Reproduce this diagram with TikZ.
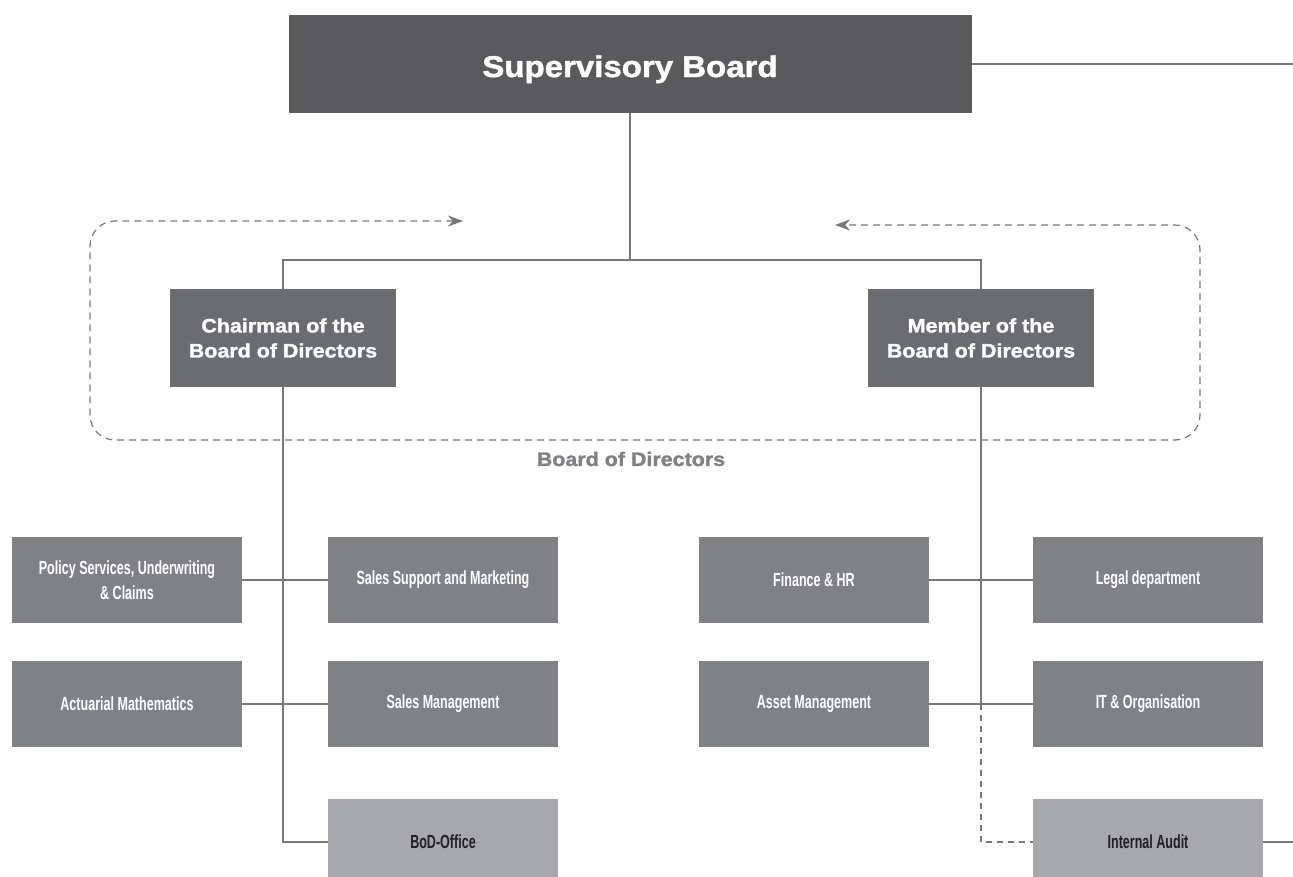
\documentclass[tikz,border=0pt]{standalone}
\usepackage{fontspec}
\setmainfont{Liberation Sans}
\newfontfamily\condfont[FakeStretch=0.66]{Liberation Sans}
\newfontfamily\heavyfont[FakeStretch=1.1, FakeBold=1.5]{Liberation Sans}
\usetikzlibrary{arrows.meta}

\definecolor{boardgray}{HTML}{5A5A5D}
\definecolor{dirgray}{HTML}{6B6C6F}
\definecolor{deptgray}{HTML}{808184}
\definecolor{officegray}{HTML}{A7A8AB}
\definecolor{linegray}{HTML}{76777A}
\definecolor{textdark}{HTML}{231F20}

\tikzset{
  board/.style={fill=boardgray, text=white, inner sep=0pt,
    minimum width=683pt, minimum height=98pt,
    text height=26pt, text depth=0pt,
    font=\heavyfont\bfseries\fontsize{30}{32}\selectfont},
  director/.style={fill=dirgray, text=white, inner sep=0pt, align=center,
    minimum width=226pt, minimum height=98pt,
    font=\heavyfont\bfseries\fontsize{19.5}{25}\selectfont},
  dept/.style={fill=deptgray, text=white, inner sep=0pt, align=center,
    minimum width=230pt, minimum height=86pt,
    font=\condfont\bfseries\fontsize{19}{25}\selectfont},
  office/.style={dept, fill=officegray, text=textdark},
  link/.style={draw=linegray, line width=1.2pt},
  duty/.style={link, dash pattern=on 6pt off 5pt},
  bodframe/.style={draw=linegray, line width=1.2pt, dash pattern=on 7pt off 5pt,
    rounded corners=25pt, {Stealth[length=15pt,width=11pt]}-{Stealth[length=15pt,width=11pt]}},
}

\begin{document}
\begin{tikzpicture}[x=1pt, y=-1pt]
    \useasboundingbox (0,0) rectangle (1293,876);
    \clip (0,0) rectangle (1293,876);

    % board level
    \node[board] (super) at (630,64) {Supervisory Board};
    \node[director] (chair) at (283,338) {Chairman of the\\Board of Directors};
    \node[director] (member) at (981,338) {Member of the\\Board of Directors};

    % departments
    \node[dept] (policy) at (127,580) {Policy Services, Underwriting\\\& Claims};
    \node[dept] (actuarial) at (127,704) {Actuarial Mathematics};
    \node[dept] (salessupport) at (443,580) {Sales Support and Marketing};
    \node[dept] (salesmgmt) at (443,704) {Sales Management};
    \node[office] (bodoffice) at (443,842) {BoD-Office};
    \node[dept] (finance) at (814,580) {Finance \& HR};
    \node[dept] (asset) at (814,704) {Asset Management};
    \node[dept] (legal) at (1148,580) {Legal department};
    \node[dept] (itorg) at (1148,704) {IT \& Organisation};
    \node[office] (audit) at (1148,842) {Internal Audit};

    \coordinate (fork) at (630,260);
    \coordinate (edge) at (1293,0);

    % board of directors frame
    \draw[bodframe] (463,221) -- (90,221) -- (90,440) -- (1200,440)
        -- (1200,225) -- (835,225);
    \node[text=deptgray, font=\heavyfont\bfseries\fontsize{19.5}{21}\selectfont]
        (bodlabel) at (631,459) {Board of Directors};

    % reporting lines
    \draw[link] (super.east) -- (super.east -| edge);
    \draw[link] (super.south) -- (fork);
    \draw[link] (chair.north) |- (fork) -| (member.north);
    \draw[link] (chair.south) |- (bodoffice.west);
    \draw[link] (policy.east) -- (salessupport.west);
    \draw[link] (actuarial.east) -- (salesmgmt.west);
    \draw[link] (finance.east) -- (legal.west);
    \draw[link] (asset.east) -- (itorg.west);
    \draw[link] (member.south) -- (member.south |- asset.east);
    \draw[duty] (member.south |- asset.east) |- (audit.west);
    \draw[link] (audit.east) -- (audit.east -| edge);
\end{tikzpicture}
\end{document}
